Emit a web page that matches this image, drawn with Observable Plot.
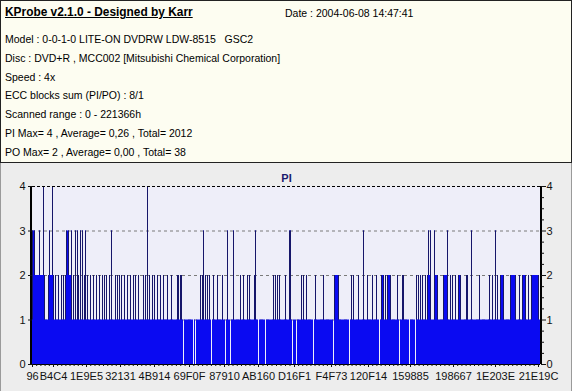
<!DOCTYPE html>
<html><head><meta charset="utf-8">
<script src="https://cdn.jsdelivr.net/npm/d3@7"></script>
<script src="https://cdn.jsdelivr.net/npm/@observablehq/plot@0.6"></script>
<style>
html,body{margin:0;padding:0;background:#ededed;}
#wrap{position:relative;width:572px;height:391px;overflow:hidden;font-family:"Liberation Sans",Arial,sans-serif;}
#header{position:absolute;left:0;top:0;width:572px;height:163px;box-sizing:border-box;border:1px solid #222;background:#fdfdf1;}
.line{position:absolute;font-size:10.5px;color:#000;white-space:pre;line-height:13px;}
.title{font-weight:bold;text-decoration:underline;font-size:11.9px;}
#chart{position:absolute;left:0;top:163px;}
.vborder{position:absolute;top:163px;width:1px;height:228px;background:#9a9a9a;}
</style></head>
<body><div id="wrap">
<div id="header"></div>
<div id="chart"></div>
<div class="vborder" style="left:0"></div>
<div class="vborder" style="left:571px"></div>
</div>
<script>
// ---- header texts ----
const headerTitle = "KProbe v2.1.0 - Designed by Karr";
const headerDate = "Date : 2004-06-08 14:47:41";
const headerLines = [
  "Model : 0-0-1-0 LITE-ON DVDRW LDW-8515   GSC2",
  "Disc : DVD+R , MCC002 [Mitsubishi Chemical Corporation]",
  "Speed : 4x",
  "ECC blocks sum (PI/PO) : 8/1",
  "Scanned range : 0 - 221366h",
  "PI Max= 4 , Average= 0,26 , Total= 2012",
  "PO Max= 2 , Average= 0,00 , Total= 38"
];

// ---- chart data (one value per plotted column) ----
const chartTitle = "PI";
const nCols = 508;          // number of plotted sample columns
const piDefault = 1;        // columns not listed below read 1
const piLevel0 = [151,161,163,179,193,198,226,233,260,264,281,301,317,347,367,377,383];
const piLevel2 = [3,4,5,6,8,9,10,12,16,18,19,21,23,26,29,31,33,37,38,41,46,52,55,58,61,64,67,70,72,74,77,83,85,87,89,92,95,98,101,103,106,111,113,117,120,122,125,128,131,135,139,145,146,148,149,
  168,170,173,175,177,181,185,190,208,211,215,217,222,241,243,245,247,253,269,271,274,283,291,302,303,304,305,306,319,321,326,335,340,344,349,350,351,353,355,356,357,358,365,370,371,384,386,388,390,393,395,397,403,404,405,411,412,413,414,418,420,423,426,427,428,434,435,447,457,460,465,468,469,470,471,478,479,480,481,482,483,487,490,491,492,493,496,499,500,501,502,503,504,505,506];
const piLevel3 = [0,1,2,7,17,34,35,36,39,43,45,48,50,53,79,171,195,201,223,257,258,331,396,398,402,415,439,463];
const piLevel4 = [11,20,115];

// x axis: LBA labels (hex) and the sample column each sits at
const tickLabels = ["96","B4C4","1E9E5","32131","4B914","69F0F","87910","AB160","D16F1","F4F73","120F14","159885","198667","1E203E","21E19C"];
const tickCols   = [0,21,54,88,122,157,192,226,262,299,336,378,421,463,506];
const yTicks = [0,1,2,3,4];
const yMinor = [0.25,0.5,0.75,1.25,1.5,1.75,2.25,2.5,2.75,3.25,3.5,3.75];

// ---- header ----
const header = document.getElementById("header");
function addLine(text, left, top, cls) {
  const d = document.createElement("div");
  d.className = "line" + (cls ? " " + cls : "");
  d.textContent = text;
  d.style.left = left + "px";
  d.style.top = top + "px";
  header.appendChild(d);
}
addLine(headerTitle, 4, 5, "title");
addLine(headerDate, 284, 5.5);
headerLines.forEach((t, i) => addLine(t, 4, 32 + i * 18.8));

// ---- series ----
const values = new Array(nCols).fill(piDefault);
piLevel0.forEach(c => values[c] = 0);
piLevel2.forEach(c => values[c] = 2);
piLevel3.forEach(c => values[c] = 3);
piLevel4.forEach(c => values[c] = 4);
const series = values.map((pi, col) => ({col, pi}));
const edges = [];
values.forEach((v, i) => {
  const left = i > 0 ? values[i - 1] : 0;
  const right = i < nCols - 1 ? values[i + 1] : 0;
  const lo = Math.max(1, Math.min(left, right));
  if (v > lo) edges.push({col: i, lo, hi: v});
});
const labelByCol = new Map(tickCols.map((c, i) => [c, tickLabels[i]]));
const minorCols = [];
for (let i = 0; i < tickCols.length - 1; i++) {
  const a = tickCols[i], b = tickCols[i + 1];
  const n = Math.max(1, Math.round((b - a) / 4.3));
  for (let k = 1; k < n; k++) minorCols.push(a + (b - a) * k / n);
}

const blue = "#0a0af2", navy = "#16166a";
const plot = Plot.plot({
  width: 572, height: 228,
  marginLeft: 32, marginRight: 32, marginTop: 23, marginBottom: 27,
  x: {domain: [0, nCols], axis: null},
  y: {domain: [0, 4], axis: null},
  style: {background: "transparent", fontFamily: "Liberation Sans, Arial, sans-serif", fontSize: "11px", color: "#111", overflow: "visible"},
  marks: [
    Plot.frame({fill: "#eeeef9", stroke: null}),
    Plot.ruleY([1, 2, 3], {stroke: "#7a7a7a", strokeDasharray: "3,3"}),
    Plot.ruleX(series.filter(d => d.pi > 0), {x: "col", y1: 0, y2: "pi", stroke: blue, strokeWidth: 1}),
    Plot.ruleX(edges, {x: "col", y1: "lo", y2: "hi", stroke: navy, strokeWidth: 1}),
    Plot.ruleY([4], {stroke: "#000", strokeDasharray: "3,2"}),
    Plot.ruleY([0], {stroke: "#000"}),
    Plot.ruleX([0], {stroke: "#000", strokeWidth: 2, dx: -1.5, shapeRendering: "crispEdges"}),
    Plot.ruleX([nCols], {stroke: "#000", strokeWidth: 2, dx: 0.5, shapeRendering: "crispEdges"}),
    Plot.axisY({anchor: "left", label: null, ticks: yTicks, tickSize: 4, tickPadding: 3, tickFormat: d => String(d)}),
    Plot.axisY({anchor: "right", label: null, ticks: yTicks, tickSize: 5, tickPadding: 1, tickFormat: d => String(d)}),
    Plot.axisY({anchor: "right", label: null, ticks: yMinor, tickSize: 3, tickFormat: () => ""}),
    Plot.axisX({anchor: "bottom", label: null, ticks: tickCols, tickSize: 3, tickPadding: 5, tickFormat: d => labelByCol.get(d)}),
    Plot.axisX({anchor: "bottom", label: null, ticks: minorCols, tickSize: 2, tickFormat: () => ""}),
    Plot.text([chartTitle], {frameAnchor: "top", dy: -12, fontWeight: "bold", fill: "#1a1a6e", fontSize: 11})
  ]
});
document.getElementById("chart").appendChild(plot);
</script>
</body></html>
